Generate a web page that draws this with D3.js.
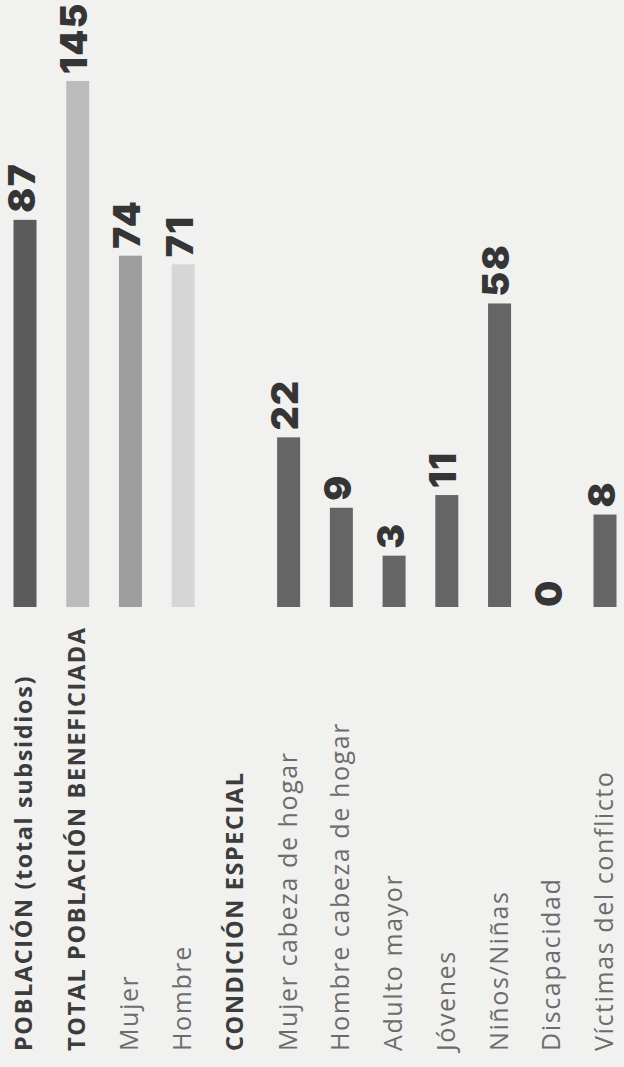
<!DOCTYPE html>
<html>
<head>
<meta charset="utf-8">
<script src="https://cdnjs.cloudflare.com/ajax/libs/d3/7.8.5/d3.min.js"></script>
<style>
	html, body { margin: 0; padding: 0; background: #f1f1f0; }
	svg { display: block; }
</style>
</head>
<body>
<div id="chart"></div>
<script>
(function () {
	"use strict";

	// rows as read top-to-bottom in the (unrotated) chart
	var categories = [
		"POBLACIÓN (total subsidios)",
		"TOTAL POBLACIÓN BENEFICIADA",
		"Mujer",
		"Hombre",
		"CONDICIÓN ESPECIAL",
		"Mujer cabeza de hogar",
		"Hombre cabeza de hogar",
		"Adulto mayor",
		"Jóvenes",
		"Niños/Niñas",
		"Discapacidad",
		"Víctimas del conflicto"
	];
	var values = [87, 145, 74, 71, null, 22, 9, 3, 11, 58, 0, 8];
	var headerRows = ["POBLACIÓN (total subsidios)", "TOTAL POBLACIÓN BENEFICIADA", "CONDICIÓN ESPECIAL"];

	var pageWidth = 624,
		pageHeight = 1067;

	var data = categories.map(function (c, i) {
		return { name: c, value: values[i] };
	});

	function isHeader(d) { return headerRows.indexOf(d.name) > -1; }

	var svg = d3.select("#chart").append("svg")
		.attr("width", pageWidth)
		.attr("height", pageHeight);

	svg.append("rect")
		.attr("width", pageWidth)
		.attr("height", pageHeight)
		.attr("fill", "#f1f1f0");

	// the printed chart is turned a quarter turn, so draw it flat and rotate
	var g = svg.append("g")
		.attr("transform", "translate(0," + pageHeight + ") rotate(-90)");

	var barStart = 460,
		barThickness = 23;

	var y = d3.scalePoint()
		.domain(categories)
		.range([25, 605]);

	var x = d3.scalePow()
		.exponent(0.6)
		.domain([0, 145])
		.range([0, 526]);

	var tone = d3.scaleOrdinal()
		.domain(["POBLACIÓN (total subsidios)", "TOTAL POBLACIÓN BENEFICIADA", "Mujer", "Hombre"])
		.range(["#5b5b5b", "#bcbcbc", "#9e9e9e", "#d6d6d6"])
		.unknown("#656565");

	// labels
	g.selectAll(".label")
		.data(data)
		.enter().append("text")
		.attr("class", "label")
		.attr("x", 16)
		.attr("y", function (d) { return y(d.name) - 2; })
		.attr("dominant-baseline", "central")
		.style("font-family", "'Open Sans', sans-serif")
		.style("font-size", function (d) { return isHeader(d) ? "23.5px" : "25px"; })
		.style("font-weight", function (d) { return isHeader(d) ? 700 : 400; })
		.style("letter-spacing", "1.6px")
		.style("fill", function (d) { return isHeader(d) ? "#3c3c3c" : "#6c6c6c"; })
		.text(function (d) { return d.name; });

	var withValue = data.filter(function (d) { return d.value !== null; });

	g.selectAll(".bar")
		.data(withValue)
		.enter().append("rect")
		.attr("class", "bar")
		.attr("x", barStart)
		.attr("y", function (d) { return y(d.name) - barThickness / 2; })
		.attr("width", function (d) { return x(d.value); })
		.attr("height", barThickness)
		.attr("fill", function (d) { return tone(d.name); });

	g.selectAll(".value")
		.data(withValue)
		.enter().append("text")
		.attr("class", "value")
		.attr("x", function (d) { return barStart + x(d.value) + (d.value ? 7 : 0); })
		.attr("y", function (d) { return y(d.name) - 4; })
		.attr("dominant-baseline", "central")
		.style("font-family", "Inter, Roboto, sans-serif")
		.style("font-size", "37px")
		.style("font-weight", 900)
		.style("letter-spacing", "1.5px")
		.style("fill", "#353535")
		.text(function (d) { return d.value; });
})();
</script>
</body>
</html>
